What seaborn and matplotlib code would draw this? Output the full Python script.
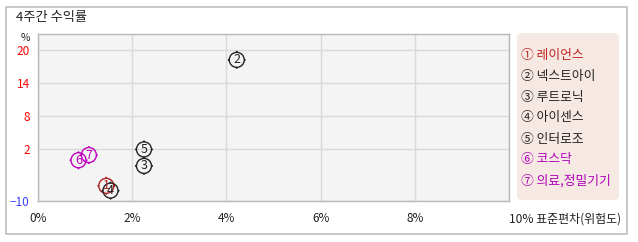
import numpy as np
import pandas as pd
import matplotlib
matplotlib.use("Agg")
import matplotlib.pyplot as plt
from matplotlib.path import Path
from matplotlib.patches import FancyBboxPatch, Rectangle
import matplotlib.transforms as mtransforms
import seaborn as sns

# ---- data ----
names = ["레이언스", "넥스트아이", "루트로닉", "아이센스", "인터로조", "코스닥", "의료,정밀기기"]
legend_labels = ["① 레이언스", "② 넥스트아이", "③ 루트로닉", "④ 아이센스", "⑤ 인터로조", "⑥ 코스닥", "⑦ 의료,정밀기기"]
marker_nums = ["1", "2", "3", "4", "5", "6", "7"]
risk = [1.45, 4.22, 2.25, 1.54, 2.25, 0.86, 1.08]        # 표준편차 (%)
returns = [-6.5, 18.2, -1.9, -7.6, 1.9, -0.6, 0.6]       # 4주간 수익률 (%)
colors = ["#b22222", "#222222", "#222222", "#222222", "#222222", "#c000c0", "#c000c0"]
legend_colors = ["#c0201c", "#222222", "#222222", "#222222", "#222222", "#b000b8", "#b000b8"]
xticks = [0, 2, 4, 6, 8, 10]
xticklabels = ["0%", "2%", "4%", "6%", "8%", "10% 표준편차(위험도)"]
yticks = [-10, 2, 8, 14, 20]
yticklabels = ["−10", "2", "8", "14", "20"]
ytick_colors = ["#3a3aff", "#ff0000", "#ff0000", "#ff0000", "#ff0000"]

df = pd.DataFrame({"name": names, "risk": risk, "ret": returns})

sns.set_theme(style="white")
plt.rcParams["font.family"] = ["Noto Sans CJK KR", "DejaVu Sans"]
plt.rcParams["axes.unicode_minus"] = False

W, H = 638, 242
fig = plt.figure(figsize=(W / 100, H / 100), dpi=100)
fig.patch.set_facecolor("white")

# outer frame
fig.patches.append(Rectangle((6 / W, 1 - 234 / H), (627 - 6) / W, (234 - 7) / H,
                             transform=fig.transFigure, fill=False,
                             edgecolor="#bdbdbd", linewidth=1.2))

ax = fig.add_axes([38 / W, 1 - 201 / H, (509 - 38) / W, (201 - 34) / H])
ax.set_facecolor("#f4f4f4")

# piecewise y scale: below 2 compressed
RATIO = (52 / 12) / 5.5
def fwd(v):
    v = np.asarray(v, dtype=float)
    return np.where(v >= 2, v, 2 + (v - 2) * RATIO)
def inv(u):
    u = np.asarray(u, dtype=float)
    return np.where(u >= 2, u, 2 + (u - 2) / RATIO)
ax.set_yscale("function", functions=(fwd, inv))

# custom marker: circle with 4 small ticks
circ = Path.unit_circle()
T = 1.2
tick_verts = [(0, 1.0), (0, T), (0, -1.0), (0, -T),
              (1.0, 0), (T, 0), (-1.0, 0), (-T, 0)]
tick_codes = [Path.MOVETO, Path.LINETO] * 4
ticks_path = Path(tick_verts, tick_codes)
mpath = Path.make_compound_path(circ, ticks_path)

sns.scatterplot(data=df, x="risk", y="ret", hue="name", palette=colors,
                marker=mpath, s=168, linewidth=1.0, legend=False, ax=ax, zorder=3)
pc = ax.collections[0]
pc.set_edgecolors(pc.get_facecolors())
pc.set_facecolors("none")

for xv, yv, n, c in zip(risk, returns, marker_nums, colors):
    ax.text(xv, yv, n, ha="center", va="center", fontsize=9, color=c, zorder=4)

ax.set_xlim(0, 10)
ax.set_ylim(-10, 22.9)
ax.set_xticks(xticks)
ax.set_xticklabels(xticklabels, fontsize=8.5, color="#222222")
ax.set_yticks(yticks)
ax.set_yticklabels(yticklabels, fontsize=8.5)
for lab, c in zip(ax.get_yticklabels(), ytick_colors):
    lab.set_color(c)
last = ax.get_xticklabels()[-1]
last.set_horizontalalignment("left")
last.set_fontsize(8.6)
last.set_transform(last.get_transform() + mtransforms.ScaledTranslation(-5 / 100, 0, fig.dpi_scale_trans))
ax.tick_params(axis="both", length=0)
ax.tick_params(axis="x", pad=8)
ax.tick_params(axis="y", pad=6)
ax.set_xlabel("")
ax.set_ylabel("")

ax.grid(True, color="#d9d9d9", linewidth=1.0)
for sp in ax.spines.values():
    sp.set_color("#b8b8b8")
    sp.set_linewidth(1.0)

# title and unit
fig.text(16 / W, 1 - 17 / H, "4주간 수익률", fontsize=9.5, color="#222222", ha="left", va="center")
fig.text(25 / W, 1 - 38 / H, "%", fontsize=7.5, color="#222222", ha="center", va="center")

# legend box
fig.patches.append(FancyBboxPatch((517 / W, 1 - 200 / H), (619 - 517) / W, (200 - 33) / H,
                                  boxstyle="round,pad=0,rounding_size=0.008",
                                  transform=fig.transFigure, facecolor="#f6e9e3",
                                  edgecolor="none", mutation_aspect=W / H))
for i, (lab, c) in enumerate(zip(legend_labels, legend_colors)):
    fig.text(521 / W, 1 - (55 + i * 21) / H, lab, fontsize=9.2, color=c, ha="left", va="center")

fig.savefig("out.png", dpi=100)
